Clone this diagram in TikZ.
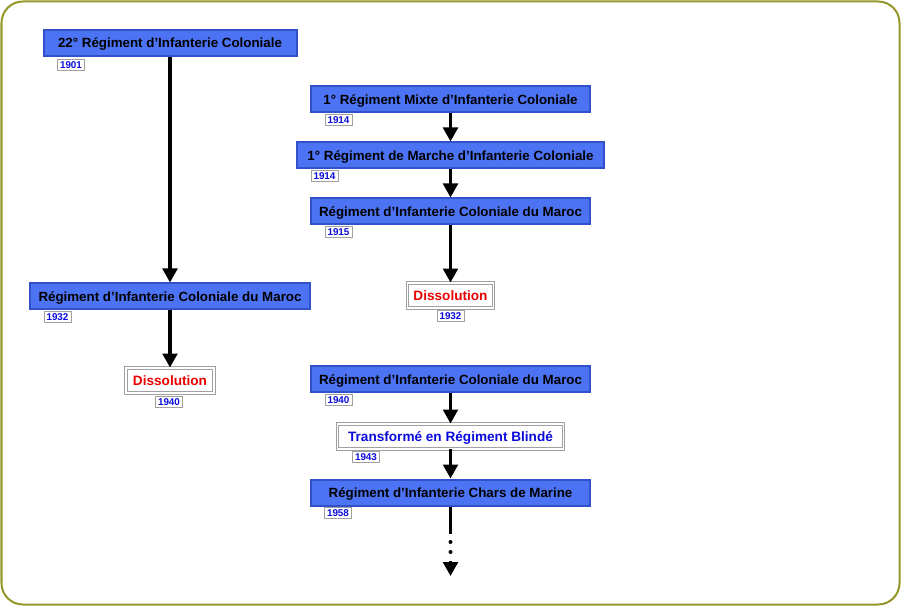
\documentclass[tikz,border=0pt]{standalone}
\usepackage{fontspec}
\setmainfont{Liberation Sans}
\usetikzlibrary{arrows.meta}
\definecolor{frameol}{RGB}{150,150,40}
\definecolor{bfill}{RGB}{77,115,245}
\definecolor{bdraw}{RGB}{50,80,200}
\definecolor{ytext}{RGB}{10,10,220}
\definecolor{gline}{RGB}{160,160,160}
\definecolor{dred}{RGB}{235,0,0}
\tikzset{
  bluebox/.style={draw=bdraw, fill=bfill, line width=1.5pt, inner sep=0pt, minimum height=26*0.75pt, text height=7.2pt, text depth=0pt, font=\bfseries\fontsize{10}{12}\selectfont, text=black},
  whitebox/.style={draw=gline, double=white, double distance=1.1pt, line width=0.7pt, fill=white, inner sep=0pt, minimum height=25*0.75pt, text height=7.3pt, text depth=0pt, font=\bfseries\fontsize{10.2}{12}\selectfont},
  yearbox/.style={draw=gline, fill=white, line width=0.6pt, inner sep=0pt, minimum width=27*0.75pt, minimum height=11*0.75pt, text height=5.3pt, text depth=0pt, font=\bfseries\fontsize{7.4}{8}\selectfont, text=ytext},
  bw/.style={minimum width=#1*0.75pt},
  arr/.style={line width=2.4pt, -{Triangle[width=11pt,length=10.5pt]}},
  plain/.style={line width=2.4pt},
  dotn/.style={circle, fill=black, inner sep=0pt, minimum size=3pt}
}
\begin{document}
\begin{tikzpicture}[x=0.75pt, y=-0.75pt]
\useasboundingbox (0,0) rectangle (901,606);
\draw[frameol, line width=1.5pt, rounded corners=16pt] (1.5,1.5) rectangle (899.5,604.5);
% left column
\node[bluebox, bw=253] (A) at (170,43) {22° Régiment d’Infanterie Coloniale};
\node[yearbox] (yA) at (71,65) {1901};
\node[bluebox, bw=280] (B) at (170,296.5) {Régiment d’Infanterie Coloniale du Maroc};
\node[yearbox] (yB) at (57.5,316.5) {1932};
\node[whitebox, bw=88, text=dred] (D1) at (170,380.5) {Dissolution};
\node[yearbox] (yD1) at (169,401.5) {1940};
\draw[arr] (A.south) -- (B.north);
\draw[arr] (B.south) -- (D1.north);
% right column
\node[bluebox, bw=279] (C) at (450.5,99.5) {1° Régiment Mixte d’Infanterie Coloniale};
\node[yearbox] (yC) at (338.5,120) {1914};
\node[bluebox, bw=307] (D) at (450.5,155.5) {1° Régiment de Marche d’Infanterie Coloniale};
\node[yearbox] (yD) at (324.5,176) {1914};
\node[bluebox, bw=279] (E) at (450.5,211.5) {Régiment d’Infanterie Coloniale du Maroc};
\node[yearbox] (yE) at (338.5,232) {1915};
\node[whitebox, bw=86, text=dred] (D2) at (450.5,295.5) {Dissolution};
\node[yearbox] (yD2) at (450.5,316) {1932};
\draw[arr] (C.south) -- (D.north);
\draw[arr] (D.south) -- (E.north);
\draw[arr] (E.south) -- (D2.north);
\node[bluebox, bw=279] (F) at (450.5,379.5) {Régiment d’Infanterie Coloniale du Maroc};
\node[yearbox] (yF) at (338.5,400) {1940};
\node[whitebox, bw=226, text=ytext] (T) at (450.5,436.5) {Transformé en Régiment Blindé};
\node[yearbox] (yT) at (366,457) {1943};
\node[bluebox, bw=279] (G) at (450.5,492.5) {Régiment d’Infanterie Chars de Marine};
\node[yearbox] (yG) at (338,513) {1958};
\draw[arr] (F.south) -- (T.north);
\draw[arr] (T.south) -- (G.north);
\coordinate (g1) at (450.5,534);
\node[dotn] (d1) at (450.5,542) {};
\node[dotn] (d2) at (450.5,552) {};
\coordinate (g2) at (450.5,561);
\coordinate (g3) at (450.5,576);
\draw[plain] (G.south) -- (g1);
\draw[arr] (g2) -- (g3);
\end{tikzpicture}
\end{document}
